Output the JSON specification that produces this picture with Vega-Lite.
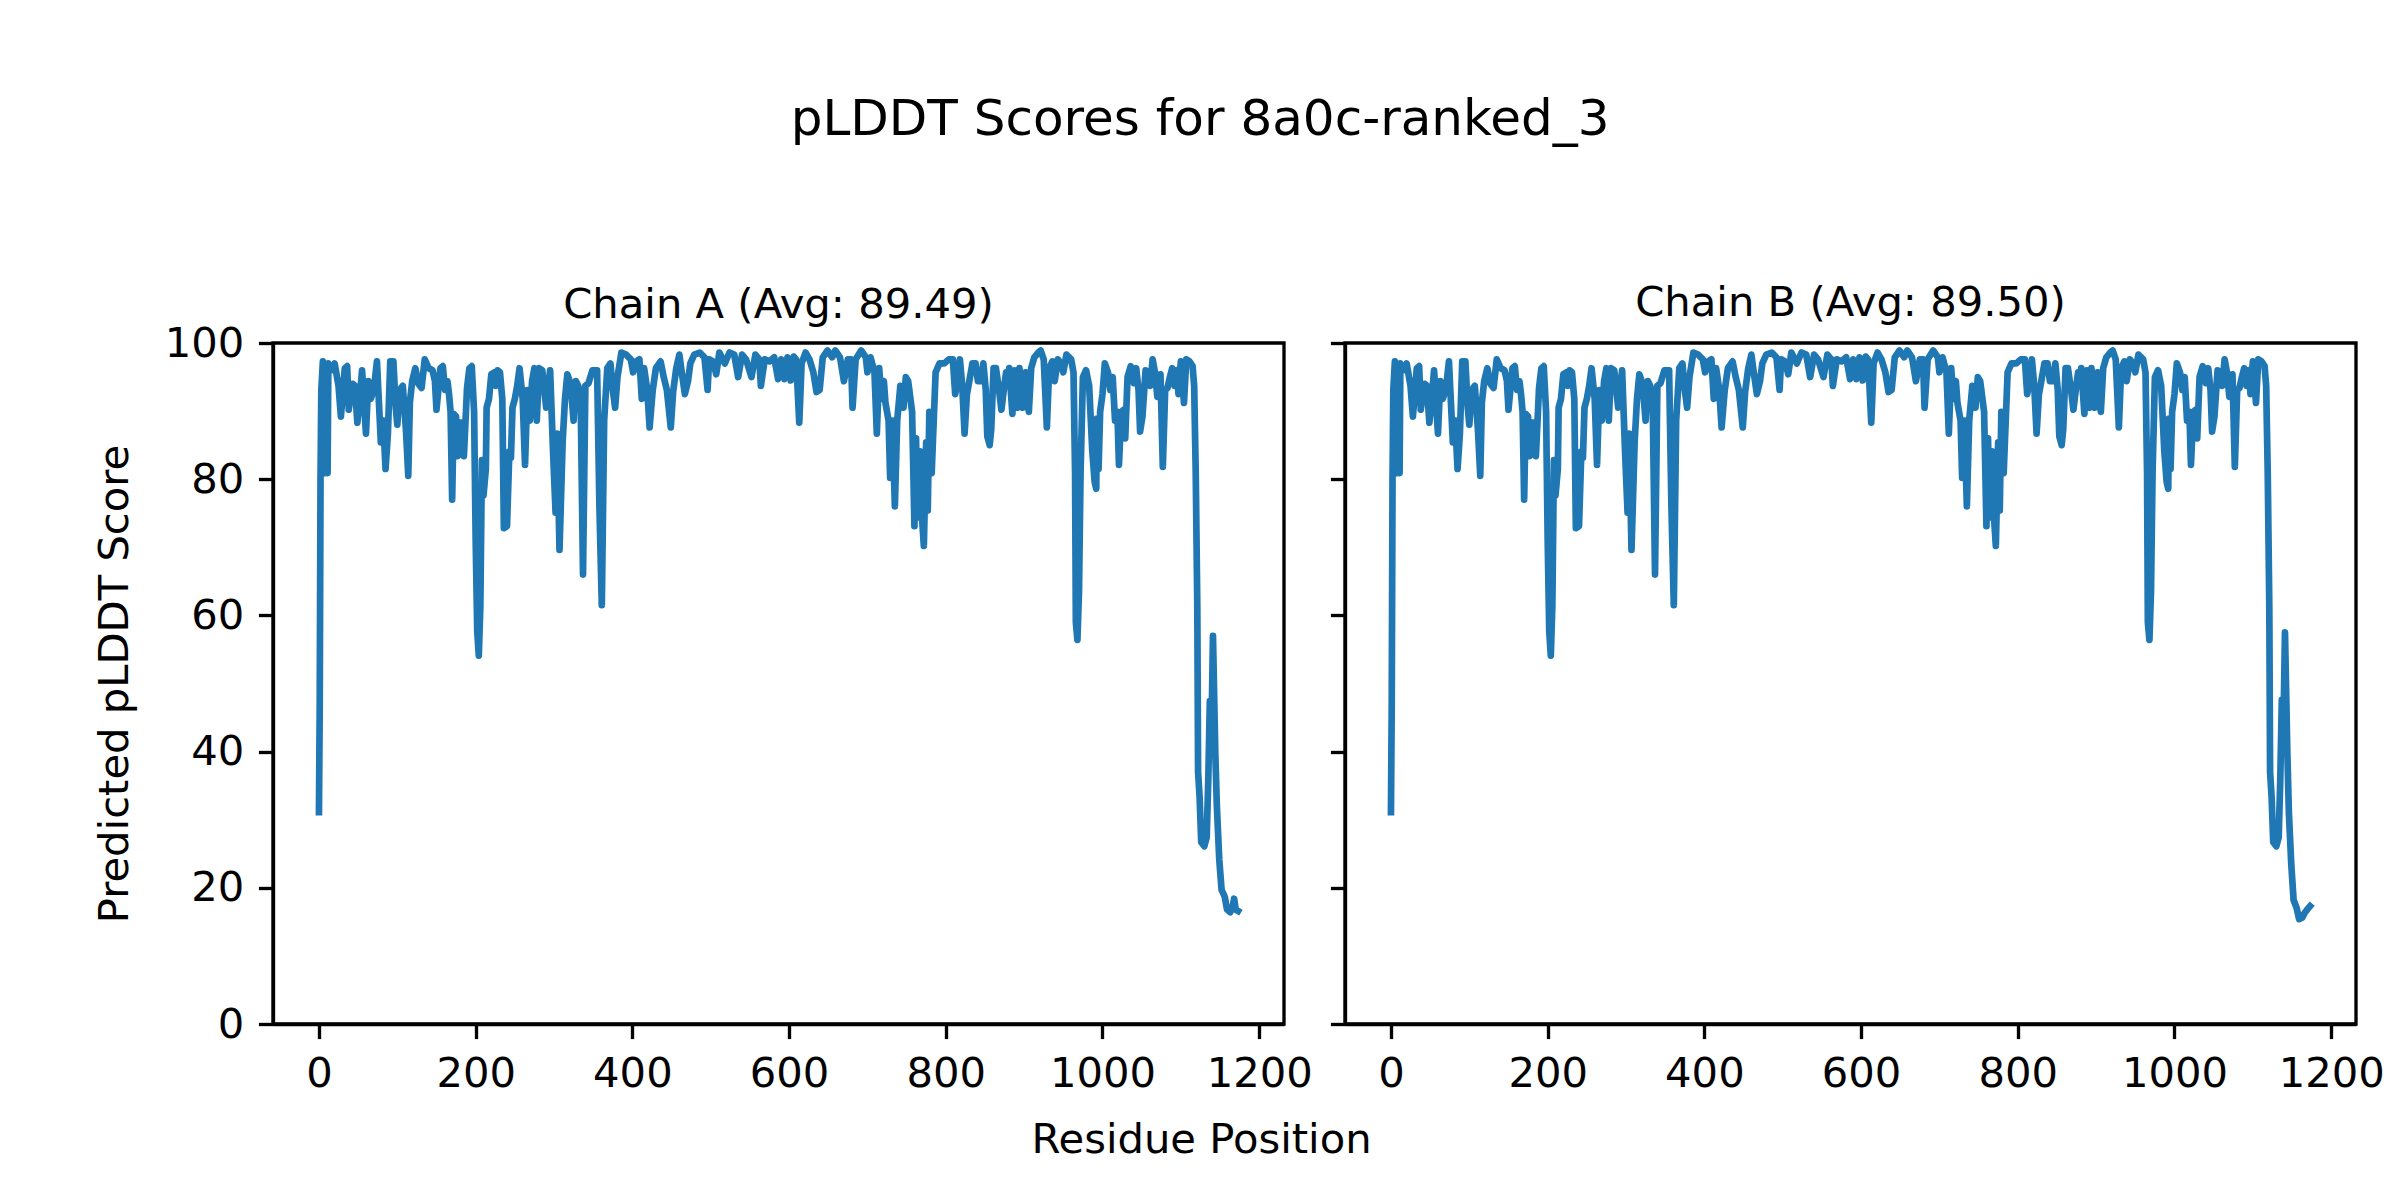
{
  "$schema": "https://vega.github.io/schema/vega-lite/v6.json",
  "background": "white",
  "padding": {"left": 92, "top": 95, "right": 20, "bottom": 10},
  "title": {"text": "pLDDT Scores for 8a0c-ranked_3", "fontSize": 50, "font": "DejaVu Sans", "fontWeight": "normal", "color": "black", "anchor": "middle", "offset": 96, "baseline": "alphabetic", "dx": -39},
  "data": {"values": [
{"x":0,"a":31.1,"b":31.1},{"x":1,"a":47,"b":47},{"x":2,"a":80,"b":80},{"x":3,"a":93,"b":93},{"x":5,"a":97.3,"b":97.3},{"x":8,"a":80.9,"b":80.9},{"x":9,"a":94,"b":94},{"x":11,"a":80.9,"b":80.9},{"x":12,"a":97,"b":97},{"x":16,"a":96,"b":96},{"x":20,"a":97,"b":97},{"x":25,"a":93.7,"b":93.7},{"x":28,"a":89.2,"b":89.2},{"x":33,"a":96.3,"b":96.3},{"x":36,"a":96.6,"b":96.6},{"x":38,"a":90.2,"b":90.2},{"x":43,"a":94,"b":94},{"x":46,"a":93.7,"b":93.7},{"x":49,"a":88.3,"b":88.3},{"x":52,"a":91.8,"b":91.8},{"x":55,"a":96,"b":96},{"x":60,"a":86.7,"b":86.7},{"x":63,"a":94.4,"b":94.4},{"x":66,"a":91.8,"b":91.8},{"x":70,"a":93.1,"b":93.1},{"x":74,"a":97.3,"b":97.3},{"x":79,"a":85.4,"b":85.4},{"x":82,"a":88.6,"b":88.6},{"x":85,"a":81.5,"b":81.5},{"x":88,"a":86.7,"b":86.7},{"x":91,"a":97.3,"b":97.3},{"x":95,"a":97.3,"b":97.3},{"x":98,"a":90.5,"b":90.5},{"x":100,"a":88,"b":88},{"x":103,"a":93.1,"b":93.1},{"x":107,"a":93.7,"b":93.7},{"x":111,"a":87.3,"b":87.3},{"x":114,"a":80.5,"b":80.5},{"x":116,"a":91.2,"b":91.2},{"x":119,"a":94.4,"b":94.4},{"x":123,"a":96.3,"b":96.3},{"x":127,"a":94,"b":94},{"x":131,"a":93.4,"b":93.4},{"x":135,"a":97.6,"b":97.6},{"x":140,"a":96.3,"b":96.3},{"x":145,"a":96,"b":96},{"x":148,"a":94.4,"b":94.4},{"x":150,"a":90.2,"b":90.2},{"x":155,"a":96.3,"b":96.3},{"x":158,"a":96.6,"b":96.6},{"x":161,"a":93.1,"b":93.1},{"x":164,"a":94.4,"b":94.4},{"x":166,"a":92.5,"b":92.5},{"x":168,"a":89.9,"b":89.9},{"x":170,"a":77,"b":77},{"x":172,"a":89.6,"b":89.6},{"x":175,"a":89.2,"b":89.2},{"x":177,"a":83.4,"b":83.4},{"x":180,"a":88.3,"b":88.3},{"x":183,"a":88.3,"b":88.3},{"x":185,"a":83.4,"b":83.4},{"x":189,"a":93.4,"b":93.4},{"x":192,"a":96.3,"b":96.3},{"x":195,"a":96.6,"b":96.6},{"x":198,"a":89.9,"b":89.9},{"x":200,"a":71.2,"b":71.2},{"x":202,"a":57.7,"b":57.7},{"x":204,"a":54.1,"b":54.1},{"x":206,"a":61.5,"b":61.5},{"x":208,"a":82.8,"b":82.8},{"x":210,"a":77.6,"b":77.6},{"x":213,"a":81.5,"b":81.5},{"x":214,"a":90.5,"b":90.5},{"x":217,"a":91.8,"b":91.8},{"x":220,"a":95.4,"b":95.4},{"x":224,"a":95.7,"b":95.7},{"x":226,"a":93.7,"b":93.7},{"x":228,"a":96,"b":96},{"x":231,"a":95.7,"b":95.7},{"x":234,"a":91.8,"b":91.8},{"x":236,"a":72.8,"b":72.8},{"x":240,"a":73.1,"b":73.1},{"x":243,"a":84.1,"b":84.1},{"x":245,"a":83.1,"b":83.1},{"x":247,"a":90.5,"b":90.5},{"x":250,"a":91.8,"b":91.8},{"x":253,"a":93.7,"b":93.7},{"x":256,"a":96.3,"b":96.3},{"x":260,"a":91.8,"b":91.8},{"x":263,"a":82.1,"b":82.1},{"x":266,"a":93.1,"b":93.1},{"x":269,"a":88.6,"b":88.6},{"x":272,"a":94.4,"b":94.4},{"x":275,"a":96.3,"b":96.3},{"x":278,"a":88.6,"b":88.6},{"x":281,"a":96.3,"b":96.3},{"x":285,"a":96,"b":96},{"x":290,"a":90.5,"b":90.5},{"x":295,"a":96,"b":96},{"x":299,"a":83.4,"b":83.4},{"x":302,"a":75.1,"b":75.1},{"x":304,"a":86.7,"b":86.7},{"x":307,"a":69.6,"b":69.6},{"x":311,"a":85.4,"b":85.4},{"x":314,"a":91.8,"b":91.8},{"x":317,"a":95.4,"b":95.4},{"x":321,"a":94.1,"b":94.1},{"x":325,"a":88.6,"b":88.6},{"x":328,"a":94.4,"b":94.4},{"x":331,"a":93.7,"b":93.7},{"x":334,"a":91.8,"b":91.8},{"x":337,"a":66,"b":66},{"x":340,"a":93.7,"b":93.7},{"x":344,"a":94.1,"b":94.1},{"x":349,"a":96,"b":96},{"x":355,"a":96,"b":96},{"x":358,"a":75.7,"b":75.7},{"x":361,"a":61.5,"b":61.5},{"x":364,"a":88.6,"b":88.6},{"x":368,"a":96.3,"b":96.3},{"x":372,"a":97,"b":97},{"x":375,"a":93.1,"b":93.1},{"x":378,"a":90.5,"b":90.5},{"x":381,"a":95,"b":95},{"x":386,"a":98.6,"b":98.6},{"x":392,"a":98.3,"b":98.3},{"x":398,"a":97.6,"b":97.6},{"x":401,"a":95.7,"b":95.7},{"x":405,"a":97.3,"b":97.3},{"x":409,"a":97.6,"b":97.6},{"x":412,"a":91.8,"b":91.8},{"x":415,"a":96.3,"b":96.3},{"x":419,"a":93.1,"b":93.1},{"x":422,"a":87.6,"b":87.6},{"x":426,"a":93.1,"b":93.1},{"x":430,"a":96.3,"b":96.3},{"x":436,"a":97.3,"b":97.3},{"x":440,"a":95,"b":95},{"x":444,"a":93.1,"b":93.1},{"x":449,"a":87.6,"b":87.6},{"x":452,"a":92.8,"b":92.8},{"x":456,"a":96.3,"b":96.3},{"x":460,"a":98.3,"b":98.3},{"x":463,"a":95.7,"b":95.7},{"x":467,"a":92.5,"b":92.5},{"x":471,"a":94.4,"b":94.4},{"x":474,"a":97,"b":97},{"x":479,"a":98.3,"b":98.3},{"x":486,"a":98.6,"b":98.6},{"x":492,"a":97.9,"b":97.9},{"x":496,"a":93.1,"b":93.1},{"x":498,"a":97.6,"b":97.6},{"x":503,"a":97.3,"b":97.3},{"x":507,"a":95.4,"b":95.4},{"x":511,"a":98.6,"b":98.6},{"x":518,"a":97,"b":97},{"x":524,"a":98.6,"b":98.6},{"x":530,"a":98.3,"b":98.3},{"x":535,"a":95,"b":95},{"x":540,"a":98.3,"b":98.3},{"x":545,"a":97.6,"b":97.6},{"x":552,"a":95,"b":95},{"x":557,"a":98.3,"b":98.3},{"x":562,"a":97.6,"b":97.6},{"x":564,"a":93.7,"b":93.7},{"x":569,"a":97.6,"b":97.6},{"x":575,"a":97.3,"b":97.3},{"x":581,"a":97.9,"b":97.9},{"x":586,"a":94.7,"b":94.7},{"x":590,"a":97.6,"b":97.6},{"x":594,"a":94.7,"b":94.7},{"x":598,"a":97.9,"b":97.9},{"x":602,"a":94.5,"b":94.5},{"x":606,"a":98,"b":98},{"x":609,"a":97.6,"b":97.6},{"x":613,"a":88.3,"b":88.3},{"x":616,"a":97,"b":97},{"x":621,"a":98.6,"b":98.6},{"x":626,"a":97.6,"b":97.6},{"x":631,"a":95.7,"b":95.7},{"x":635,"a":92.8,"b":92.8},{"x":639,"a":93.1,"b":93.1},{"x":643,"a":97.9,"b":97.9},{"x":649,"a":98.9,"b":98.9},{"x":655,"a":97.9,"b":97.9},{"x":659,"a":98.9,"b":98.9},{"x":665,"a":97.9,"b":97.9},{"x":670,"a":94.4,"b":94.4},{"x":675,"a":97.6,"b":97.6},{"x":679,"a":97.6,"b":97.6},{"x":681,"a":90.5,"b":90.5},{"x":685,"a":97.6,"b":97.6},{"x":692,"a":98.9,"b":98.9},{"x":698,"a":97.9,"b":97.9},{"x":700,"a":95.7,"b":95.7},{"x":704,"a":97.9,"b":97.9},{"x":709,"a":95.7,"b":95.7},{"x":712,"a":86.7,"b":86.7},{"x":715,"a":96.3,"b":96.3},{"x":718,"a":91.8,"b":91.8},{"x":721,"a":94.4,"b":94.4},{"x":723,"a":91.2,"b":91.2},{"x":727,"a":88.6,"b":88.6},{"x":729,"a":80.2,"b":80.2},{"x":732,"a":88.6,"b":88.6},{"x":735,"a":76,"b":76},{"x":738,"a":88.6,"b":88.6},{"x":742,"a":93.7,"b":93.7},{"x":746,"a":90.5,"b":90.5},{"x":749,"a":95,"b":95},{"x":752,"a":94.4,"b":94.4},{"x":757,"a":89.9,"b":89.9},{"x":760,"a":73.1,"b":73.1},{"x":762,"a":86,"b":86},{"x":764,"a":74.4,"b":74.4},{"x":767,"a":84.1,"b":84.1},{"x":770,"a":73.8,"b":73.8},{"x":772,"a":70.2,"b":70.2},{"x":775,"a":85.4,"b":85.4},{"x":777,"a":75.4,"b":75.4},{"x":779,"a":89.9,"b":89.9},{"x":782,"a":80.9,"b":80.9},{"x":787,"a":95.7,"b":95.7},{"x":792,"a":97,"b":97},{"x":798,"a":97,"b":97},{"x":804,"a":97.6,"b":97.6},{"x":809,"a":97.6,"b":97.6},{"x":812,"a":92.5,"b":92.5},{"x":815,"a":94.4,"b":94.4},{"x":818,"a":97.6,"b":97.6},{"x":821,"a":93.7,"b":93.7},{"x":824,"a":86.7,"b":86.7},{"x":827,"a":92.5,"b":92.5},{"x":830,"a":94.4,"b":94.4},{"x":834,"a":97,"b":97},{"x":838,"a":97,"b":97},{"x":841,"a":94.4,"b":94.4},{"x":845,"a":94.4,"b":94.4},{"x":848,"a":97,"b":97},{"x":851,"a":93.1,"b":93.1},{"x":853,"a":86.3,"b":86.3},{"x":856,"a":85,"b":85},{"x":858,"a":87.3,"b":87.3},{"x":861,"a":96.3,"b":96.3},{"x":864,"a":96.3,"b":96.3},{"x":868,"a":93.1,"b":93.1},{"x":871,"a":90.2,"b":90.2},{"x":874,"a":93.1,"b":93.1},{"x":877,"a":95.7,"b":95.7},{"x":879,"a":93.7,"b":93.7},{"x":881,"a":96.3,"b":96.3},{"x":885,"a":89.6,"b":89.6},{"x":888,"a":96,"b":96},{"x":891,"a":90.5,"b":90.5},{"x":894,"a":96.3,"b":96.3},{"x":898,"a":90.5,"b":90.5},{"x":902,"a":95.7,"b":95.7},{"x":903,"a":93.7,"b":93.7},{"x":906,"a":89.9,"b":89.9},{"x":909,"a":96.3,"b":96.3},{"x":913,"a":97.9,"b":97.9},{"x":918,"a":98.6,"b":98.6},{"x":921,"a":98.9,"b":98.9},{"x":925,"a":97.6,"b":97.6},{"x":929,"a":87.6,"b":87.6},{"x":932,"a":96.3,"b":96.3},{"x":936,"a":97.3,"b":97.3},{"x":939,"a":94.4,"b":94.4},{"x":943,"a":97.6,"b":97.6},{"x":947,"a":97,"b":97},{"x":950,"a":95.7,"b":95.7},{"x":954,"a":98.3,"b":98.3},{"x":960,"a":97.6,"b":97.6},{"x":963,"a":95.7,"b":95.7},{"x":965,"a":80.9,"b":80.9},{"x":966,"a":59,"b":59},{"x":968,"a":56.4,"b":56.4},{"x":970,"a":63.5,"b":63.5},{"x":972,"a":80.9,"b":80.9},{"x":975,"a":95,"b":95},{"x":979,"a":96,"b":96},{"x":983,"a":93.7,"b":93.7},{"x":987,"a":84.1,"b":84.1},{"x":990,"a":79.6,"b":79.6},{"x":992,"a":78.6,"b":78.6},{"x":993,"a":88.9,"b":88.9},{"x":995,"a":81.5,"b":81.5},{"x":997,"a":89.9,"b":89.9},{"x":1000,"a":92.5,"b":92.5},{"x":1003,"a":97,"b":97},{"x":1007,"a":95.7,"b":95.7},{"x":1010,"a":93.1,"b":93.1},{"x":1013,"a":95,"b":95},{"x":1016,"a":88.6,"b":88.6},{"x":1019,"a":89.9,"b":89.9},{"x":1021,"a":82.1,"b":82.1},{"x":1024,"a":89.9,"b":89.9},{"x":1027,"a":90.2,"b":90.2},{"x":1029,"a":86,"b":86},{"x":1032,"a":95,"b":95},{"x":1036,"a":96.6,"b":96.6},{"x":1040,"a":94.1,"b":94.1},{"x":1043,"a":96.3,"b":96.3},{"x":1046,"a":93.1,"b":93.1},{"x":1048,"a":87,"b":87},{"x":1051,"a":89.2,"b":89.2},{"x":1055,"a":96,"b":96},{"x":1059,"a":95.7,"b":95.7},{"x":1061,"a":93.7,"b":93.7},{"x":1064,"a":97.6,"b":97.6},{"x":1067,"a":95.7,"b":95.7},{"x":1070,"a":92.1,"b":92.1},{"x":1074,"a":95.4,"b":95.4},{"x":1077,"a":81.8,"b":81.8},{"x":1080,"a":93.1,"b":93.1},{"x":1083,"a":93.4,"b":93.4},{"x":1086,"a":95,"b":95},{"x":1089,"a":96.3,"b":96.3},{"x":1092,"a":93.7,"b":93.7},{"x":1095,"a":96,"b":96},{"x":1097,"a":92.5,"b":92.5},{"x":1100,"a":97.3,"b":97.3},{"x":1104,"a":91.2,"b":91.2},{"x":1107,"a":97.6,"b":97.6},{"x":1111,"a":97.3,"b":97.3},{"x":1115,"a":96.6,"b":96.6},{"x":1117,"a":93.7,"b":93.7},{"x":1119,"a":80.9,"b":80.9},{"x":1121,"a":61.5,"b":61.5},{"x":1122,"a":37,"b":37},{"x":1124,"a":33.2,"b":33.2},{"x":1126,"a":26.7,"b":26.7},{"x":1130,"a":26.1,"b":26.1},{"x":1133,"a":27.4,"b":27.4},{"x":1135,"a":35.8,"b":35.8},{"x":1137,"a":47.4,"b":47.6},{"x":1139,"a":42.2,"b":43},{"x":1141,"a":57,"b":57.5},{"x":1144,"a":39.6,"b":40},{"x":1146,"a":31.9,"b":31},{"x":1149,"a":24.2,"b":23.5},{"x":1152,"a":19.7,"b":18.2},{"x":1156,"a":18.7,"b":17},{"x":1159,"a":16.8,"b":15.4},{"x":1163,"a":16.4,"b":15.6},{"x":1166,"a":17.1,"b":16.3},{"x":1168,"a":18.4,"b":16.6},{"x":1170,"a":16.8,"b":16.9},{"x":1173,"a":16.6,"b":17.3}
  ]},
  "bounds": "flush",
  "spacing": 61,
  "hconcat": [
    {
      "width": 1011,
      "height": 681,
      "title": {"text": "Chain A (Avg: 89.49)", "fontSize": 41.7, "font": "DejaVu Sans", "fontWeight": "normal", "color": "black", "anchor": "middle", "baseline": "alphabetic", "offset": -36.5},
      "mark": {"type": "line", "color": "#1f77b4", "strokeWidth": 6.7, "strokeJoin": "round", "strokeCap": "square", "clip": true},
      "encoding": {
        "x": {"field": "x", "type": "quantitative", "scale": {"domain": [-58.65, 1231.65], "nice": false, "zero": false},
              "axis": {"values": [0, 200, 400, 600, 800, 1000, 1200], "format": "d", "title": "Residue Position", "titleX": 928, "titleY": 115, "titleBaseline": "middle", "titleAlign": "center"}},
        "y": {"field": "a", "type": "quantitative", "scale": {"domain": [0, 100], "nice": false},
              "axis": {"values": [0, 20, 40, 60, 80, 100], "format": "d", "title": "Predicted pLDDT Score", "titleX": -159, "titleY": 340.5, "titleAngle": -90, "titleBaseline": "middle", "titleAlign": "center"}}
      }
    },
    {
      "width": 1011,
      "height": 681,
      "title": {"text": "Chain B (Avg: 89.50)", "fontSize": 41.7, "font": "DejaVu Sans", "fontWeight": "normal", "color": "black", "anchor": "middle", "baseline": "alphabetic", "offset": -16.5},
      "mark": {"type": "line", "color": "#1f77b4", "strokeWidth": 6.7, "strokeJoin": "round", "strokeCap": "square", "clip": true},
      "encoding": {
        "x": {"field": "x", "type": "quantitative", "scale": {"domain": [-58.65, 1231.65], "nice": false, "zero": false},
              "axis": {"values": [0, 200, 400, 600, 800, 1000, 1200], "format": "d", "title": null}},
        "y": {"field": "b", "type": "quantitative", "scale": {"domain": [0, 100], "nice": false},
              "axis": {"values": [0, 20, 40, 60, 80, 100], "title": null, "labels": false}}
      }
    }
  ],
  "config": {
    "font": "DejaVu Sans",
    "view": {"stroke": "black", "strokeWidth": 3.33},
    "axis": {"domainColor": "black", "domainWidth": 3.33, "tickColor": "black", "tickWidth": 3.33, "tickSize": 14.6,
             "labelFontSize": 41.7, "labelColor": "black", "labelPadding": 14.6, "labelFont": "DejaVu Sans",
             "grid": false, "titleFont": "DejaVu Sans", "titleFontSize": 41.7, "titleColor": "black", "titleFontWeight": "normal",
             "labelFlush": false, "labelOverlap": false}
  }
}
